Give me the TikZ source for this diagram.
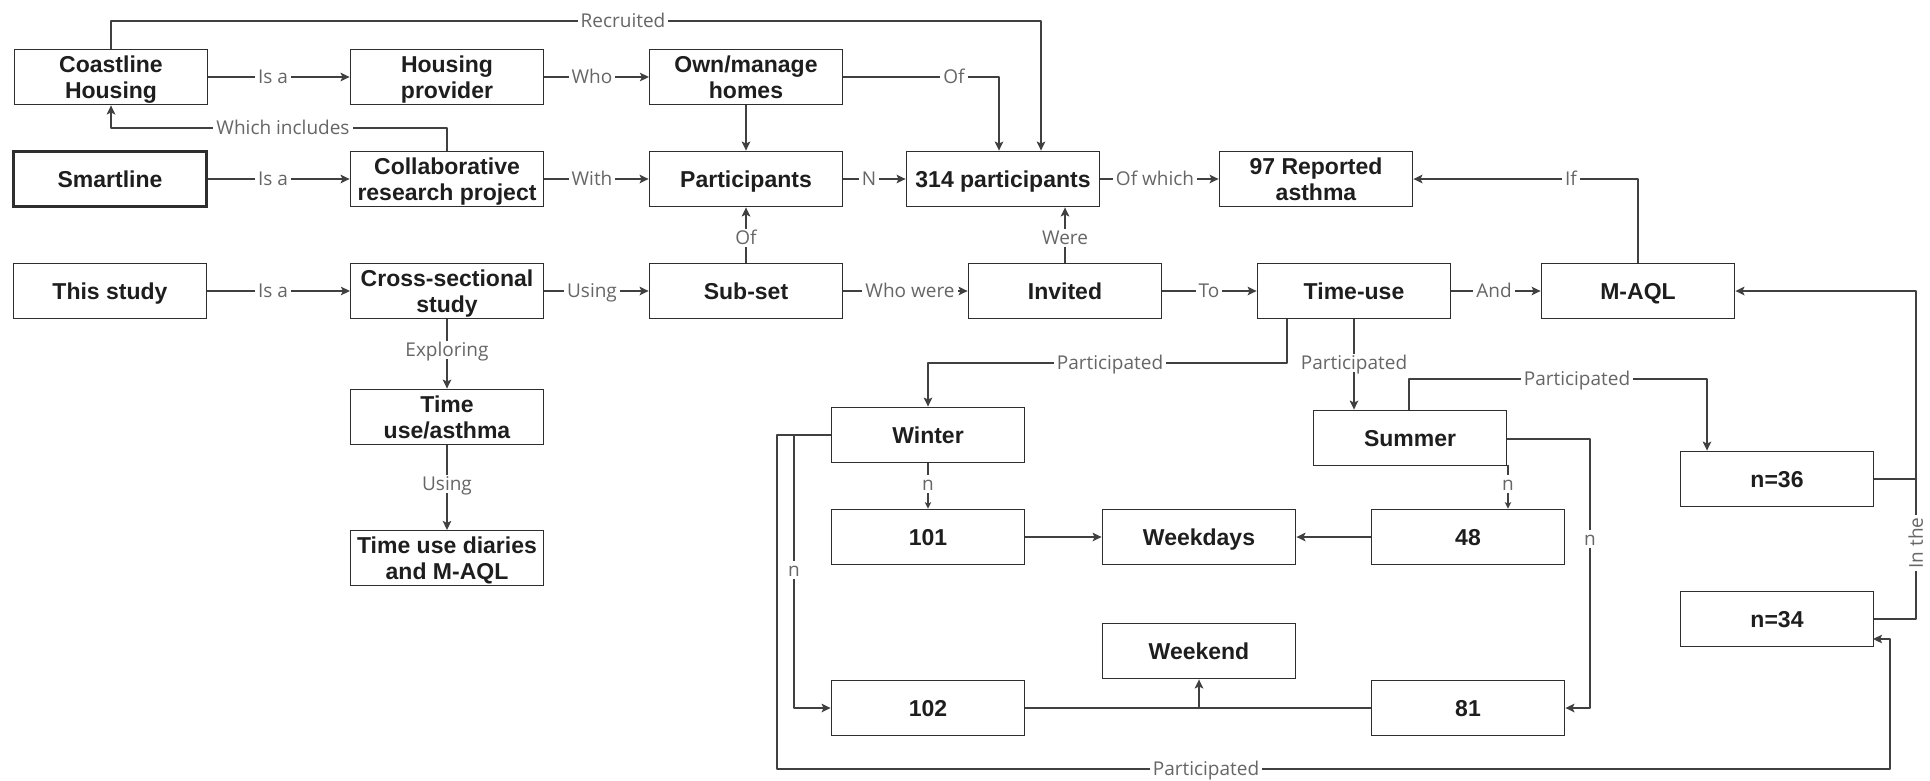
\documentclass[tikz,border=0pt]{standalone}
\usepackage{fontspec}
\setmainfont{Liberation Sans}
\newfontfamily\lblfont{Open Sans}
\usetikzlibrary{arrows.meta}
\definecolor{edgecol}{HTML}{404040}
\definecolor{boxcol}{HTML}{2E2E2E}
\definecolor{txtcol}{HTML}{1E1E1E}
\definecolor{lblcol}{HTML}{666666}
% two-line box text with struts so the caps sit centred in the box
\newcommand\twolines[2]{\rule{0pt}{22pt}#1\\#2\rule[-5pt]{0pt}{5pt}}
\begin{document}
\begin{tikzpicture}[x=1pt, y=-1pt,
  box/.style={draw=boxcol, line width=1.8pt, fill=white, minimum width=193pt,
    minimum height=55pt, inner sep=0pt, align=center, text=txtcol,
    font=\fontsize{23}{26}\selectfont\bfseries},
  onebox/.style={box, text height=22pt, text depth=5pt},
  thinbox/.style={box, line width=1.1pt},
  thickbox/.style={onebox, line width=2.8pt},
  conn/.style={draw=edgecol, line width=1.7pt, line join=round,
    -{Stealth[length=9pt,width=8.5pt,inset=2pt]}},
  plain/.style={draw=edgecol, line width=1.7pt, line join=round},
  nconn/.style={draw=edgecol, line width=1.2pt, line join=round,
    -{Stealth[length=6.5pt,width=6.5pt,inset=1.5pt]}},
  lbl/.style={fill=white, inner xsep=3pt, inner ysep=2pt, text=lblcol,
    text height=13.5pt, text depth=0pt,
    font=\lblfont\fontsize{19}{21}\selectfont}]

\fill[white] (0,0) rectangle (1930,780);
\useasboundingbox (0,0) rectangle (1930,780);

% ---- boxes, first column block
\node[box]      (coast)  at (111,77)  {\twolines{Coastline}{Housing}};
\node[box]      (hprov)  at (447,77)  {\twolines{Housing}{provider}};
\node[thinbox]  (own)    at (746,77)  {\twolines{Own/manage}{homes}};
\node[thickbox] (smart)  at (110,179) {Smartline};
\node[box]      (collab) at (447,179) {\twolines{Collaborative}{research project}};
\node[onebox]   (part)   at (746,179) {Participants};
\node[onebox]   (p314)   at (1003,179) {314 participants};
\node[box]      (asthma) at (1316,179) {\twolines{97 Reported}{asthma}};
\node[onebox]   (this)   at (110,291) {This study};
\node[thinbox]  (cross)  at (447,291) {\twolines{Cross-sectional}{study}};
\node[onebox]   (subset) at (746,291) {Sub-set};
\node[onebox]   (invited) at (1065,291) {Invited};
\node[onebox]   (timeuse) at (1354,291) {Time-use};
\node[onebox]   (maql)   at (1638,291) {M-AQL};
\node[box]      (tua)    at (447,417) {\twolines{Time}{use/asthma}};
\node[thinbox]  (diaries) at (447,558) {\twolines{Time use diaries}{and M-AQL}};

% ---- seasonal breakdown
\node[onebox] (winter)   at (928,435)  {Winter};
\node[onebox] (summer)   at (1410,438) {Summer};
\node[onebox] (n36)      at (1777,479) {n=36};
\node[onebox] (c101)     at (928,537)  {101};
\node[onebox] (weekdays) at (1199,537) {Weekdays};
\node[onebox] (c48)      at (1468,537) {48};
\node[onebox] (n34)      at (1777,619) {n=34};
\node[onebox] (weekend)  at (1199,651) {Weekend};
\node[onebox] (c102)     at (928,708)  {102};
\node[onebox] (c81)      at (1468,708) {81};

% ---- helper points for routed connectors
\coordinate (rtop)  at (1041,21);
\coordinate (ofc)   at (999,77);
\coordinate (wic)   at (447,128);
\coordinate (wil)   at (111,128);
\coordinate (ifc)   at (1638,179);
\coordinate (twa)   at (1287,363);
\coordinate (twb)   at (928,363);
\coordinate (sna)   at (1409,379);
\coordinate (snb)   at (1707,379);
\coordinate (s81)   at (1590,439);
\coordinate (wn)    at (794,435);
\coordinate (wp)    at (777,435);
\coordinate (wpb)   at (777,769);
\coordinate (bpr)   at (1890,769);
\coordinate (n34in) at (1873,639);
\coordinate (rt)    at (1916,291);
\coordinate (wkj)   at (1199,708);

% ---- connectors
\draw[conn] (coast) -- (hprov);
\draw[conn] (hprov) -- (own);
\draw[conn] (own.east) -- (ofc) -- (ofc |- p314.north);
\draw[conn] (own) -- (part);
\draw[conn] (coast.north) |- (rtop) -- (rtop |- p314.north);
\draw[conn] (collab.north) -- (wic) -- (wil) -- (coast.south);
\draw[conn] (smart) -- (collab);
\draw[conn] (collab) -- (part);
\draw[conn] (part) -- (p314);
\draw[conn] (p314) -- (asthma);
\draw[conn] (maql.north) -- (ifc) -- (asthma.east);
\draw[conn] (this) -- (cross);
\draw[conn] (cross) -- (subset);
\draw[conn] (subset) -- (part);
\draw[conn] (subset) -- (invited);
\draw[conn] (invited.north) -- (invited.north |- p314.south);
\draw[conn] (invited) -- (timeuse);
\draw[conn] (timeuse) -- (maql);
\draw[conn] (cross) -- (tua);
\draw[conn] (tua) -- (diaries);
\draw[conn] (twa |- timeuse.south) -- (twa) -- (twb) -- (winter.north);
\draw[conn] (1354,319) coordinate (tus) -- (tus |- summer.north);
\draw[conn] (sna |- summer.north) -- (sna) -- (snb) -- (snb |- n36.north);
\draw[nconn] (winter) -- (c101);
\draw[nconn] (1508,465) coordinate (ssb) -- (ssb |- c48.north);
\draw[conn] (c101) -- (weekdays);
\draw[conn] (c48) -- (weekdays);
\draw[plain] (c102) -- (c81);
\draw[conn] (wkj) -- (weekend);
\draw[conn] (s81 -| summer.east) -- (s81) -- (s81 |- c81.east) -- (c81.east);
\draw[conn] (winter.west) -- (wn) -- (wn |- c102.west) -- (c102.west);
\draw[conn] (wn) -- (wp) -- (wpb) -- (bpr) -- (bpr |- n34in) -- (n34in);
\draw[plain] (n36.east) -- (n36.east -| rt);
\draw[conn] (n34.east) -- (n34.east -| rt) -- (rt) -- (maql.east);

% ---- connector labels
\node[lbl] (l1)  at (273,77)   {Is a};
\node[lbl] (l2)  at (592,77)   {Who};
\node[lbl] (l3)  at (954,77)   {Of};
\node[lbl] (l4)  at (623,21)   {Recruited};
\node[lbl] (l5)  at (283,128)  {Which includes};
\node[lbl] (l6)  at (273,179)  {Is a};
\node[lbl] (l7)  at (592,179)  {With};
\node[lbl] (l8)  at (869,179)  {N};
\node[lbl] (l9)  at (1155,179) {Of which};
\node[lbl] (l10) at (1571,179) {If};
\node[lbl] (l11) at (273,291)  {Is a};
\node[lbl] (l12) at (592,291)  {Using};
\node[lbl] (l13) at (910,291)  {Who were};
\node[lbl] (l14) at (1209,291) {To};
\node[lbl] (l15) at (1494,291) {And};
\node[lbl] (l16) at (746,238)  {Of};
\node[lbl] (l17) at (1065,238) {Were};
\node[lbl] (l18) at (447,350)  {Exploring};
\node[lbl] (l19) at (447,484)  {Using};
\node[lbl] (l20) at (1110,363) {Participated};
\node[lbl] (l21) at (1354,363) {Participated};
\node[lbl] (l22) at (1577,379) {Participated};
\node[lbl] (l23) at (928,484)  {n};
\node[lbl] (l24) at (1508,484) {n};
\node[lbl] (l25) at (794,570)  {n};
\node[lbl] (l26) at (1590,539) {n};
\node[lbl] (l27) at (1206,769) {Participated};
\node[lbl, rotate=90] (l28) at (1916,543) {In the};
\end{tikzpicture}
\end{document}
